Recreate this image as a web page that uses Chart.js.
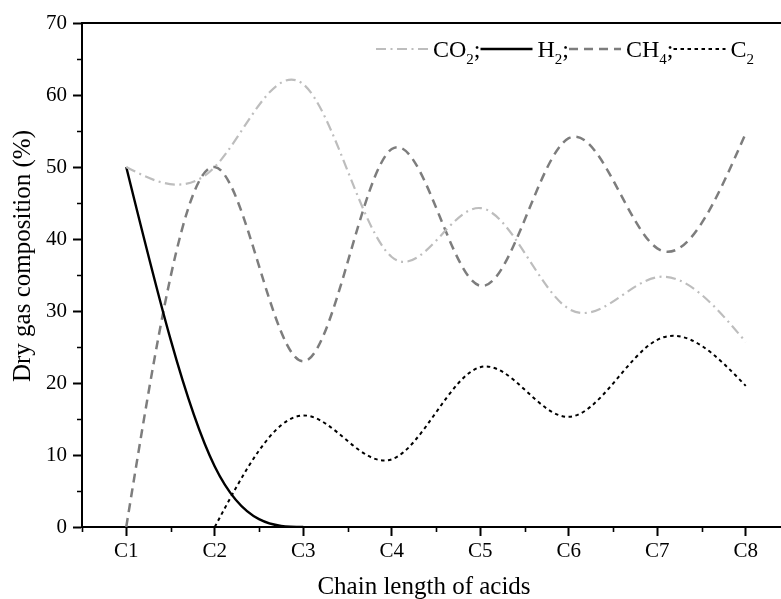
<!DOCTYPE html>
<html>
<head>
<meta charset="utf-8">
<script src="https://cdn.jsdelivr.net/npm/chart.js@4.4.1/dist/chart.umd.min.js"></script>
<style>
  html, body { margin: 0; padding: 0; overflow: hidden; background: #fff; }
  #wrap { width: 800px; height: 599px; }
</style>
</head>
<body>
<div id="wrap"><canvas id="chart" width="800" height="599"></canvas></div>
<script>
// Dry gas composition by acid chain length
const categories = ['C1', 'C2', 'C3', 'C4', 'C5', 'C6', 'C7', 'C8'];
const co2 = [50, 50, 61.5, 37.5, 44.3, 30.3, 34.7, 25.7];
const h2  = [50, 8.4, 0, null, null, null, null, null];
const ch4 = [0, 50, 23, 52.5, 33.5, 54, 38.7, 54.7];
const c2  = [null, 0, 15.5, 9.4, 22.2, 15.3, 26.0, 19.6];
const yTickValues = [0, 10, 20, 30, 40, 50, 60, 70];

const SERIF = '"Liberation Serif", "Times New Roman", serif';

// Second derivatives of a natural cubic spline on a uniform grid
function naturalSecondDerivs(ys) {
  const n = ys.length;
  const M = new Array(n).fill(0);
  if (n < 3) return M;
  const cp = new Array(n).fill(0), dp = new Array(n).fill(0);
  for (let i = 1; i < n - 1; i++) {
    const r = 6 * (ys[i + 1] - 2 * ys[i] + ys[i - 1]);
    const den = 4 - (i > 1 ? cp[i - 1] : 0);
    cp[i] = 1 / den;
    dp[i] = (r - (i > 1 ? dp[i - 1] : 0)) / den;
  }
  for (let i = n - 2; i >= 1; i--) M[i] = dp[i] - cp[i] * M[i + 1];
  return M;
}

// Replace the default bezier control points with natural-spline ones
const naturalSpline = {
  id: 'naturalSpline',
  beforeDatasetDraw(chart, args) {
    const meta = args.meta;
    const line = meta.dataset;
    line.updateControlPoints(chart.chartArea, meta.iScale.axis);
    let run = [];
    const flush = () => {
      if (run.length >= 2) {
        const M = naturalSecondDerivs(run.map(p => p.y));
        for (let k = 0; k < run.length; k++) {
          const p = run[k];
          if (k < run.length - 1) {
            const q = run[k + 1];
            const d = (q.y - p.y) - (2 * M[k] + M[k + 1]) / 6;
            p.cp2x = p.x + (q.x - p.x) / 3;
            p.cp2y = p.y + d / 3;
          } else { p.cp2x = p.x; p.cp2y = p.y; }
          if (k > 0) {
            const o = run[k - 1];
            const d = (p.y - o.y) + (M[k - 1] + 2 * M[k]) / 6;
            p.cp1x = p.x - (p.x - o.x) / 3;
            p.cp1y = p.y - d / 3;
          } else { p.cp1x = p.x; p.cp1y = p.y; }
        }
      }
      run = [];
    };
    for (const p of meta.data) { if (p.skip) flush(); else run.push(p); }
    flush();
    line._path = undefined;
  }
};

// Frame, minor ticks, axis titles and the inline legend
const decorations = {
  id: 'decorations',
  afterDraw(chart) {
    const { ctx, chartArea: a, scales: { x, y } } = chart;
    ctx.save();
    ctx.strokeStyle = '#000';
    ctx.lineWidth = 2;
    ctx.beginPath();
    ctx.moveTo(a.left - 1, a.top);
    ctx.lineTo(a.right, a.top);
    ctx.lineTo(a.right, a.bottom);
    ctx.stroke();

    // minor ticks
    ctx.lineWidth = 1.6;
    const half = (x.getPixelForValue(1) - x.getPixelForValue(0)) / 2;
    ctx.beginPath();
    for (let i = 0; i <= categories.length; i++) {
      const px = Math.round(x.getPixelForValue(i) - half) + 0.5;
      ctx.moveTo(px, a.bottom);
      ctx.lineTo(px, a.bottom + 5);
    }
    for (let v = 5; v < 70; v += 10) {
      const py = Math.round(y.getPixelForValue(v)) + 0.5;
      ctx.moveTo(a.left, py);
      ctx.lineTo(a.left - 5, py);
    }
    ctx.stroke();

    // axis titles
    ctx.fillStyle = '#000';
    ctx.font = '25px ' + SERIF;
    ctx.textAlign = 'center';
    ctx.textBaseline = 'alphabetic';
    ctx.fillText('Chain length of acids', a.left + 342, 594);
    ctx.save();
    ctx.translate(30, a.top + 233);
    ctx.rotate(-Math.PI / 2);
    ctx.fillText('Dry gas composition (%)', 0, 0);
    ctx.restore();

    // legend: sample line + label with subscript digits
    let lx = 376;
    const ly = 49, base = 57;
    const sets = chart.data.datasets;
    sets.forEach((ds, i) => {
      ctx.save();
      ctx.strokeStyle = ds.borderColor;
      ctx.lineWidth = ds.borderWidth;
      ctx.setLineDash(ds.borderDash || []);
      ctx.beginPath();
      ctx.moveTo(lx, ly);
      ctx.lineTo(lx + 52, ly);
      ctx.stroke();
      ctx.restore();
      lx += 57;
      ctx.textAlign = 'left';
      const text = ds.label + (i < sets.length - 1 ? ';' : '');
      for (const ch of text) {
        if (ch >= '0' && ch <= '9') {
          ctx.font = '15px ' + SERIF;
          ctx.fillText(ch, lx, base + 7);
        } else {
          ctx.font = '24px ' + SERIF;
          ctx.fillText(ch, lx, base);
        }
        lx += ctx.measureText(ch).width;
      }
      lx += 0;
    });
    ctx.restore();
  }
};

const tickFont = { family: SERIF, size: 21 };

new Chart(document.getElementById('chart'), {
  type: 'line',
  data: {
    labels: categories,
    datasets: [
      { label: 'CO2', data: co2, borderColor: '#bdbdbd', borderWidth: 2.2, borderDash: [10, 4.5, 2, 4.5] },
      { label: 'H2',  data: h2,  borderColor: '#000000', borderWidth: 2.4, borderDash: [] },
      { label: 'CH4', data: ch4, borderColor: '#7d7d7d', borderWidth: 2.5, borderDash: [9, 6] },
      { label: 'C2',  data: c2,  borderColor: '#000000', borderWidth: 2, borderDash: [3.5, 3.5] }
    ].map(d => Object.assign(d, { tension: 0.4, pointRadius: 0, fill: false, spanGaps: false }))
  },
  options: {
    responsive: false,
    animation: false,
    devicePixelRatio: 1,
    layout: { padding: { top: 23, right: 10, left: 0, bottom: 0 } },
    plugins: { legend: { display: false }, tooltip: { enabled: false } },
    scales: {
      x: {
        type: 'category',
        offset: true,
        grid: { display: true, offset: false, drawOnChartArea: false, tickLength: 9, tickWidth: 2, tickColor: '#000' },
        border: { display: true, color: '#000', width: 2 },
        ticks: { color: '#000', font: tickFont, padding: 3, maxRotation: 0, autoSkip: false },
        afterFit(s) { s.height = 72; }
      },
      y: {
        min: 0, max: 70,
        afterBuildTicks(s) { s.ticks = yTickValues.map(v => ({ value: v })); },
        grid: { display: true, drawOnChartArea: false, tickLength: 9, tickWidth: 2, tickColor: '#000' },
        border: { display: true, color: '#000', width: 2 },
        ticks: { color: '#000', font: tickFont, padding: 6 },
        afterFit(s) { s.width = 82; }
      }
    }
  },
  plugins: [naturalSpline, decorations]
});
</script>
</body>
</html>
